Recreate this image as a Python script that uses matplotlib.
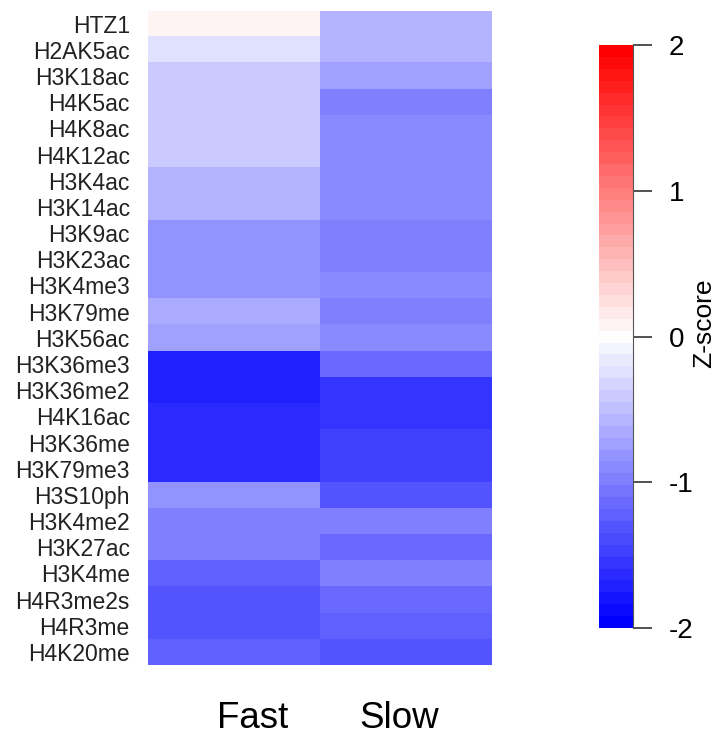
import numpy as np
import matplotlib.pyplot as plt
from matplotlib.colors import LinearSegmentedColormap, ListedColormap, Normalize

plt.rcParams['font.family'] = ['Liberation Sans', 'DejaVu Sans']
plt.rcParams['axes.unicode_minus'] = False

# histone marks, top to bottom
marks = ["HTZ1", "H2AK5ac", "H3K18ac", "H4K5ac", "H4K8ac", "H4K12ac",
         "H3K4ac", "H3K14ac", "H3K9ac", "H3K23ac", "H3K4me3", "H3K79me",
         "H3K56ac", "H3K36me3", "H3K36me2", "H4K16ac", "H3K36me", "H3K79me3",
         "H3S10ph", "H3K4me2", "H3K27ac", "H3K4me", "H4R3me2s", "H4R3me",
         "H4K20me"]
groups = ["Fast", "Slow"]

fast = [0.12, -0.26, -0.40, -0.38, -0.42, -0.42,
        -0.59, -0.59, -0.82, -0.78, -0.78, -0.68,
        -0.70, -1.69, -1.75, -1.65, -1.60, -1.65,
        -0.84, -0.94, -0.94, -1.23, -1.33, -1.28,
        -1.25]
slow = [-0.55, -0.60, -0.73, -0.98, -0.88, -0.93,
        -0.86, -0.86, -0.98, -1.02, -0.90, -0.94,
        -0.90, -1.14, -1.53, -1.57, -1.51, -1.51,
        -1.33, -0.98, -1.14, -1.02, -1.15, -1.22,
        -1.30]

z = np.column_stack([fast, slow])

# 49-step blue-white-red palette like colorRampPalette(c("blue","white","red"))(49)
ramp = LinearSegmentedColormap.from_list("bwr", ["blue", "white", "red"])
cmap = ListedColormap(ramp(np.linspace(0, 1, 49)))
norm = Normalize(-2, 2)

fig = plt.figure(figsize=(7.18, 7.36), dpi=100)
ax = fig.add_axes([0.206, 0.0965, 0.479, 0.889])
im = ax.imshow(z, cmap=cmap, norm=norm, aspect="auto", interpolation="nearest")
ax.set_yticks(np.arange(len(marks)))
ax.set_yticklabels(marks, fontsize=16.5, color="#222222")
ax.tick_params(axis="y", length=0, pad=13)
ax.set_xticks([])
for s in ax.spines.values():
    s.set_visible(False)

fig.text(253 / 718, 1 - 728 / 736, groups[0], ha="center", va="baseline", fontsize=26.5)
fig.text(399 / 718, 1 - 728 / 736, groups[1], ha="center", va="baseline", fontsize=26.5)

cax = fig.add_axes([0.834, 0.1467, 0.0474, 0.792])
cb = fig.colorbar(im, cax=cax, ticks=[-2, -1, 0, 1, 2])
cb.outline.set_visible(False)
cax.spines["right"].set_visible(True)
cax.spines["right"].set_color("#555555")
cax.tick_params(length=14, width=1.2, labelsize=20, pad=12, color="#333333")
cax.set_ylabel("Z-score", fontsize=19)
cax.yaxis.set_label_coords(2.74, 0.523)

fig.savefig("out.png", dpi=100)
